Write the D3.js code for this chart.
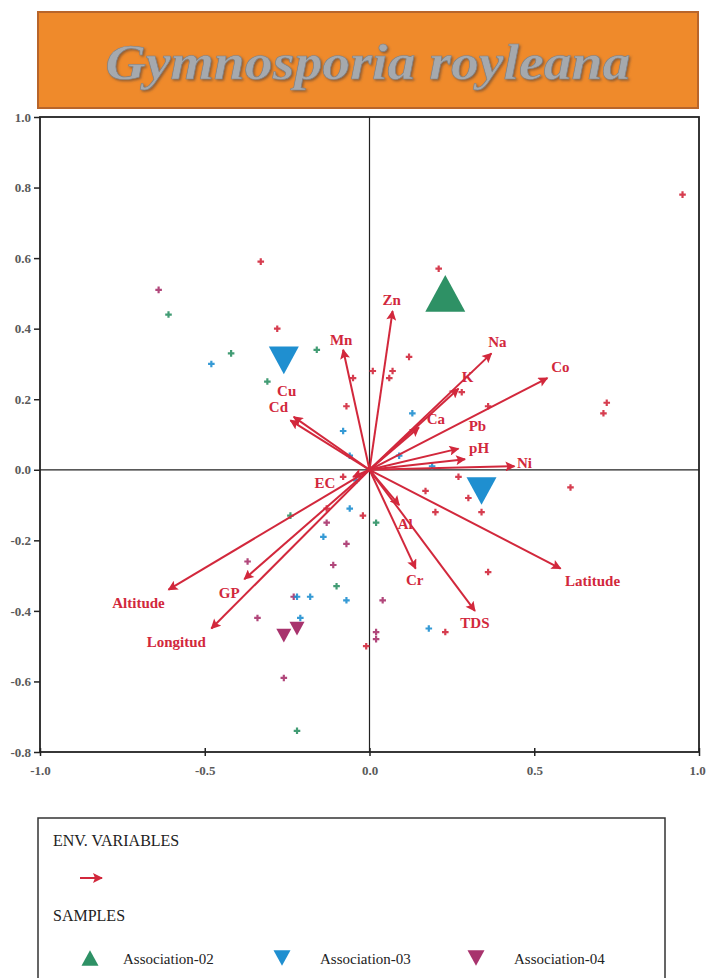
<!DOCTYPE html>
<html>
<head>
<meta charset="utf-8">
<script src="https://cdn.jsdelivr.net/npm/d3@7"></script>
<style>
  body { margin: 0; background: #fff; }
  text { font-family: "Liberation Serif", "DejaVu Serif", serif; }
</style>
</head>
<body>
<div id="container"></div>
<script>
const width = 706,
    height = 978,
    plot = { left: 40, right: 699, top: 117, bottom: 752 }

// env. variable arrows (axis 1, axis 2)
const envNames = ["Zn", "Mn", "Na", "K", "Ca", "Co", "Pb", "pH", "Ni", "Cu", "Cd", "EC", "Altitude", "GP", "Longitud", "Latitude", "TDS", "Cr", "Al"]
const envX = [0.07, -0.08, 0.37, 0.27, 0.15, 0.54, 0.27, 0.29, 0.44, -0.23, -0.24, -0.05, -0.61, -0.38, -0.48, 0.58, 0.32, 0.14, 0.09]
const envY = [0.45, 0.34, 0.33, 0.23, 0.12, 0.26, 0.06, 0.03, 0.01, 0.15, 0.14, -0.02, -0.34, -0.31, -0.45, -0.28, -0.40, -0.28, -0.10]

// sample scores (small crosses), grouped by colour
const redX = [-0.33, -0.28, -0.07, -0.05, 0.95, 0.21, 0.12, 0.01, 0.07, 0.06, 0.72, 0.71, 0.36, 0.28, 0.27, 0.17, 0.30, 0.34, 0.20, 0.61, 0.36, 0.23, -0.08, -0.02, -0.13, -0.01]
const redY = [0.59, 0.40, 0.18, 0.26, 0.78, 0.57, 0.32, 0.28, 0.28, 0.26, 0.19, 0.16, 0.18, 0.22, -0.02, -0.06, -0.08, -0.12, -0.12, -0.05, -0.29, -0.46, -0.02, -0.13, -0.11, -0.50]
const purpleX = [-0.64, -0.13, -0.07, -0.37, -0.11, -0.34, -0.26, 0.04, -0.23, 0.02, 0.02]
const purpleY = [0.51, -0.15, -0.21, -0.26, -0.27, -0.42, -0.59, -0.37, -0.36, -0.46, -0.48]
const blueX = [-0.48, -0.08, 0.13, 0.09, 0.19, -0.06, -0.04, -0.06, -0.14, -0.07, -0.22, -0.18, -0.21, 0.18]
const blueY = [0.30, 0.11, 0.16, 0.04, 0.01, 0.04, -0.03, -0.11, -0.19, -0.37, -0.36, -0.36, -0.42, -0.45]
const greenX = [-0.61, -0.42, -0.16, -0.31, -0.24, -0.10, 0.02, -0.22]
const greenY = [0.44, 0.33, 0.34, 0.25, -0.13, -0.33, -0.15, -0.74]

// association centroids
const assocNames = ["Association-02", "Association-03", "Association-03", "Association-04", "Association-04"]
const assocX = [0.23, -0.26, 0.34, -0.26, -0.22]
const assocY = [0.50, 0.31, -0.06, -0.47, -0.45]
const assocSize = [40, 30, 30, 15, 15]

const legendNames = ["Association-02", "Association-03", "Association-04"]
const yTicks = [-0.8, -0.6, -0.4, -0.2, 0.0, 0.2, 0.4, 0.6, 0.8, 1.0]
const xTicks = [-1.0, -0.5, 0.0, 0.5, 1.0]

const red = "#d2283c", blue = "#1f8fd0", green = "#2e9165", purple = "#a8336d"
const assocColor = d3.scaleOrdinal().domain(legendNames).range([green, blue, purple])

// label nudges from arrow tip (px)
const labelNudge = {
    Zn: [-1, -6], Mn: [-2, -5], Na: [6, -6], K: [9, -7], Ca: [17, -3], Co: [13, -6],
    Pb: [19, -18], pH: [14, -6], Ni: [10, 2], Cu: [-7, -21], Cd: [-12, -8], EC: [-28, 11],
    Altitude: [-30, 18], GP: [-15, 19], Longitud: [-35, 18], Latitude: [32, 17], TDS: [0, 17], Cr: [-1, 16], Al: [6, 24]
}

const xScale = d3.scaleLinear().domain([-1, 1]).range([plot.left, plot.right])
const yScale = d3.scaleLinear().domain([-0.8, 1.0]).range([plot.bottom, plot.top])
const fmt = d => d3.format(".1f")(d).replace("−", "-")

const svg = d3.select("#container")
    .append("svg")
    .attr("width", width)
    .attr("height", height)

const defs = svg.append("defs")
defs.append("marker")
    .attr("id", "head")
    .attr("viewBox", "0 0 10 10")
    .attr("refX", 9).attr("refY", 5)
    .attr("markerWidth", 6).attr("markerHeight", 5)
    .attr("markerUnits", "strokeWidth")
    .attr("orient", "auto")
    .append("path").attr("d", "M0,0 L10,5 L0,10 L2,5 Z").attr("fill", red)

const shadow = defs.append("filter").attr("id", "shadow")
shadow.append("feDropShadow").attr("dx", 1.5).attr("dy", 1.5).attr("stdDeviation", 0.8).attr("flood-color", "#6a4a30").attr("flood-opacity", 0.7)

/* TITLE BOX */
svg.append("rect")
    .attr("x", 38).attr("y", 12).attr("width", 660).attr("height", 96)
    .attr("fill", "#ef8a2b").attr("stroke", "#b8652a").attr("stroke-width", 2)
svg.append("text")
    .attr("x", 368).attr("y", 79)
    .attr("text-anchor", "middle")
    .attr("textLength", 525).attr("lengthAdjust", "spacingAndGlyphs")
    .style("font-size", "50px").style("font-style", "italic").style("font-weight", "bold")
    .attr("fill", "#a5a9ae").attr("stroke", "#7d8086").attr("stroke-width", 0.6)
    .attr("filter", "url(#shadow)")
    .text("Gymnosporia royleana")

/* AXES */
const yAxis = d3.axisLeft(yScale).tickValues(yTicks).tickFormat(fmt).tickSize(6).tickPadding(3)
svg.append("g")
    .attr("class", "axis")
    .attr("transform", `translate(${plot.left},0)`)
    .call(yAxis)

const xAxis = d3.axisBottom(xScale).tickValues(xTicks).tickFormat(fmt).tickSize(4).tickPadding(10)
const gx = svg.append("g")
    .attr("class", "axis")
    .attr("transform", `translate(0,${plot.bottom})`)
    .call(xAxis)
gx.selectAll(".tick line").attr("y1", -4)
gx.selectAll(".tick text").filter(d => d === 1).attr("dx", -2)

svg.selectAll(".axis path").remove()
svg.selectAll(".axis .tick line").attr("stroke", "#222").attr("stroke-width", 1.5)
svg.selectAll(".axis text")
    .style("font-size", "13px")
    .style("font-weight", "bold")
    .attr("fill", "#5a5a5a")
    .style("font-family", "'Liberation Serif', serif")

// frame + zero lines
svg.append("rect")
    .attr("x", plot.left).attr("y", plot.top)
    .attr("width", plot.right - plot.left).attr("height", plot.bottom - plot.top)
    .attr("fill", "none").attr("stroke", "#222").attr("stroke-width", 1.8)
svg.append("line")
    .attr("x1", plot.left).attr("x2", plot.right)
    .attr("y1", yScale(0)).attr("y2", yScale(0))
    .attr("stroke", "#222").attr("stroke-width", 1.2)
svg.append("line")
    .attr("x1", xScale(0)).attr("x2", xScale(0))
    .attr("y1", plot.top).attr("y2", plot.bottom)
    .attr("stroke", "#222").attr("stroke-width", 1.2)

/* SAMPLE CROSSES */
const cross = d3.symbol().type(d3.symbolCross).size(24)
function drawCrosses(xs, ys, color) {
    svg.append("g")
        .selectAll("path")
        .data(xs.map((x, i) => ({ x: x, y: ys[i] })))
        .join("path")
        .attr("d", cross)
        .attr("transform", d => `translate(${xScale(d.x)},${yScale(d.y)})`)
        .attr("fill", color)
        .attr("opacity", 0.9)
}
drawCrosses(redX, redY, red)
drawCrosses(purpleX, purpleY, purple)
drawCrosses(blueX, blueY, blue)
drawCrosses(greenX, greenY, green)

/* ASSOCIATION TRIANGLES */
function tri(size, up) {
    const h = size * 0.92, w = size / 2
    return up ? `M${-w},${h / 2} L${w},${h / 2} L0,${-h / 2} Z`
              : `M${-w},${-h / 2} L${w},${-h / 2} L0,${h / 2} Z`
}
svg.append("g")
    .selectAll("path")
    .data(assocNames.map((n, i) => ({ name: n, x: assocX[i], y: assocY[i], s: assocSize[i] })))
    .join("path")
    .attr("d", d => tri(d.s, d.name === "Association-02"))
    .attr("transform", d => `translate(${xScale(d.x)},${yScale(d.y)})`)
    .attr("fill", d => assocColor(d.name))

/* ENV ARROWS */
const env = envNames.map((n, i) => ({ name: n, x: envX[i], y: envY[i] }))
svg.append("g")
    .selectAll("line")
    .data(env)
    .join("line")
    .attr("x1", xScale(0)).attr("y1", yScale(0))
    .attr("x2", d => xScale(d.x)).attr("y2", d => yScale(d.y))
    .attr("stroke", red).attr("stroke-width", 2)
    .attr("marker-end", "url(#head)")

svg.append("g")
    .selectAll("text")
    .data(env)
    .join("text")
    .attr("x", d => xScale(d.x) + labelNudge[d.name][0])
    .attr("y", d => yScale(d.y) + labelNudge[d.name][1])
    .attr("text-anchor", "middle")
    .style("font-size", "15px")
    .style("font-weight", "bold")
    .attr("fill", red)
    .text(d => d.name)

/* LEGEND */
const legend = svg.append("g")
legend.append("rect")
    .attr("x", 38).attr("y", 818).attr("width", 627).attr("height", 170)
    .attr("fill", "#fff").attr("stroke", "#333").attr("stroke-width", 1.5)
legend.append("text").attr("x", 53).attr("y", 846).style("font-size", "16px").attr("fill", "#222").text("ENV. VARIABLES")
legend.append("line")
    .attr("x1", 80).attr("x2", 102).attr("y1", 878).attr("y2", 878)
    .attr("stroke", red).attr("stroke-width", 2).attr("marker-end", "url(#head)")
legend.append("text").attr("x", 53).attr("y", 921).style("font-size", "16px").attr("fill", "#222").text("SAMPLES")

const legX = [90, 282, 476]
legend.selectAll(".item")
    .data(legendNames)
    .join("g")
    .attr("transform", (d, i) => `translate(${legX[i]},958)`)
    .each(function (d, i) {
        const g = d3.select(this)
        g.append("path").attr("d", tri(17, i === 0)).attr("fill", assocColor(d))
        g.append("text").attr("x", i === 0 ? 33 : 38).attr("y", 6).style("font-size", "15px").attr("fill", "#222").text(d)
    })
</script>
</body>
</html>
